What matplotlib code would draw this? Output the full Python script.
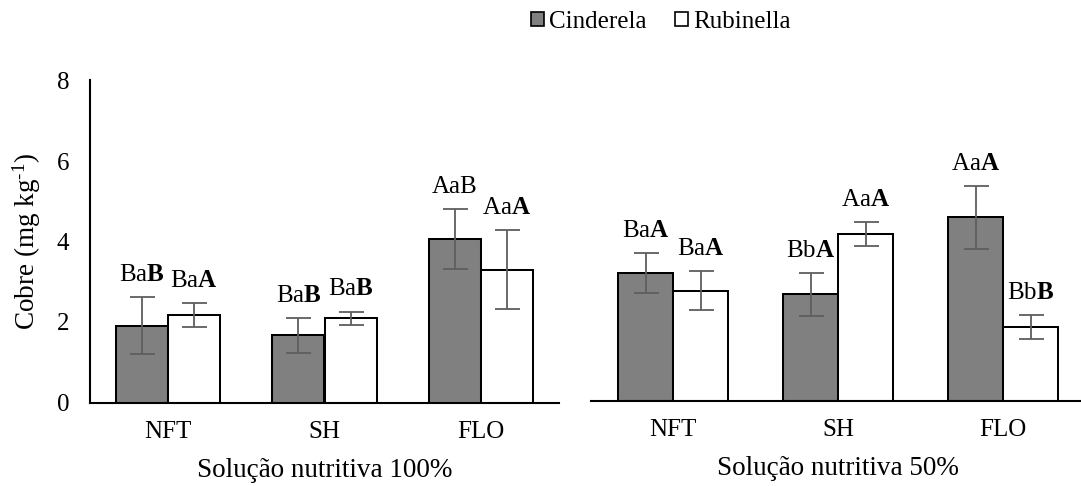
import matplotlib
matplotlib.use("Agg")
import matplotlib.pyplot as plt
import numpy as np
from matplotlib.patches import Patch

plt.rcParams["font.family"] = ["Liberation Serif", "DejaVu Serif"]
plt.rcParams["mathtext.fontset"] = "custom"
plt.rcParams["mathtext.rm"] = "Liberation Serif"
plt.rcParams["mathtext.it"] = "Liberation Serif:italic"
plt.rcParams["mathtext.bf"] = "Liberation Serif:bold"

# Copper content by growing system and cultivar
systems = ["NFT", "SH", "FLO"]
cultivars = ["Cinderela", "Rubinella"]

cin_100 = [1.91, 1.67, 4.06]
cin_100_err = [0.70, 0.43, 0.75]
rub_100 = [2.18, 2.09, 3.30]
rub_100_err = [0.30, 0.17, 0.98]

cin_50 = [3.18, 2.65, 4.56]
cin_50_err = [0.49, 0.53, 0.78]
rub_50 = [2.74, 4.15, 1.83]
rub_50_err = [0.48, 0.30, 0.30]

cin_100_lbl = ["Ba$\\mathbf{B}$", "Ba$\\mathbf{B}$", "AaB"]
rub_100_lbl = ["Ba$\\mathbf{A}$", "Ba$\\mathbf{B}$", "Aa$\\mathbf{A}$"]
cin_50_lbl = ["Ba$\\mathbf{A}$", "Bb$\\mathbf{A}$", "Aa$\\mathbf{A}$"]
rub_50_lbl = ["Ba$\\mathbf{A}$", "Aa$\\mathbf{A}$", "Bb$\\mathbf{B}$"]

panel_titles = ["Solução nutritiva 100%", "Solução nutritiva 50%"]
y_ticks = [0, 2, 4, 6, 8]

W, H = 1081, 486
fig = plt.figure(figsize=(W / 100, H / 100), dpi=100)

ax1 = fig.add_axes([90 / W, (H - 402.5) / H, 469 / W, 322 / H])
ax2 = fig.add_axes([590.7 / W, (H - 401) / H, 495 / W, 322 / H])

GRAY = "#808080"
ERR = "#5e5e5e"
bw = 1 / 3
x = np.arange(len(systems))


def draw_panel(ax, cin, cin_err, rub, rub_err, cin_lbl, rub_lbl, title):
    for vals, errs, lbls, off, fc in ((cin, cin_err, cin_lbl, -bw / 2, GRAY),
                                      (rub, rub_err, rub_lbl, bw / 2, "white")):
        ax.bar(x + off, vals, width=bw, color=fc, edgecolor="black",
               linewidth=1.45, zorder=2)
        ax.errorbar(x + off, vals, yerr=errs, fmt="none", ecolor=ERR,
                    elinewidth=1.3, capsize=9, capthick=1.3, zorder=3)
        for xi, v, e, t in zip(x + off, vals, errs, lbls):
            ax.text(xi, v + e + 0.4, t, ha="center", va="baseline",
                    fontsize=18, color="black", zorder=4)
    ax.set_xlim(-0.5, len(systems) - 0.5)
    ax.set_ylim(0, 8)
    ax.set_xticks(x)
    ax.set_xticklabels(systems, fontsize=18)
    ax.tick_params(axis="x", length=0, pad=13)
    ax.set_xlabel(title, fontsize=19.5, labelpad=11)
    for s in ("top", "right"):
        ax.spines[s].set_visible(False)
    ax.spines["bottom"].set_linewidth(1.5)
    ax.spines["bottom"].set_zorder(5)
    ax.set_facecolor("none")


draw_panel(ax1, cin_100, cin_100_err, rub_100, rub_100_err,
           cin_100_lbl, rub_100_lbl, panel_titles[0])
draw_panel(ax2, cin_50, cin_50_err, rub_50, rub_50_err,
           cin_50_lbl, rub_50_lbl, panel_titles[1])

ax1.set_yticks(y_ticks)
ax1.set_yticklabels([str(t) for t in y_ticks], fontsize=18)
ax1.tick_params(axis="y", length=0, pad=15)
ax1.spines["left"].set_linewidth(1.5)
ax1.set_ylabel("Cobre (mg kg$^{\\mathrm{\u2010}1}$)", fontsize=19.5, labelpad=9.5)

ax2.spines["left"].set_visible(False)
ax2.set_yticks([])

handles = [Patch(facecolor=GRAY, edgecolor="black", linewidth=1.2),
           Patch(facecolor="white", edgecolor="black", linewidth=1.2)]
fig.legend(handles, cultivars, loc="center", ncol=2,
           bbox_to_anchor=(0.6113, 1 - 21.7 / H), frameon=False,
           fontsize=18, handlelength=0.52, handleheight=0.52,
           handletextpad=0.2, columnspacing=1.15, borderpad=0)

fig.savefig("out.png", dpi=100)
